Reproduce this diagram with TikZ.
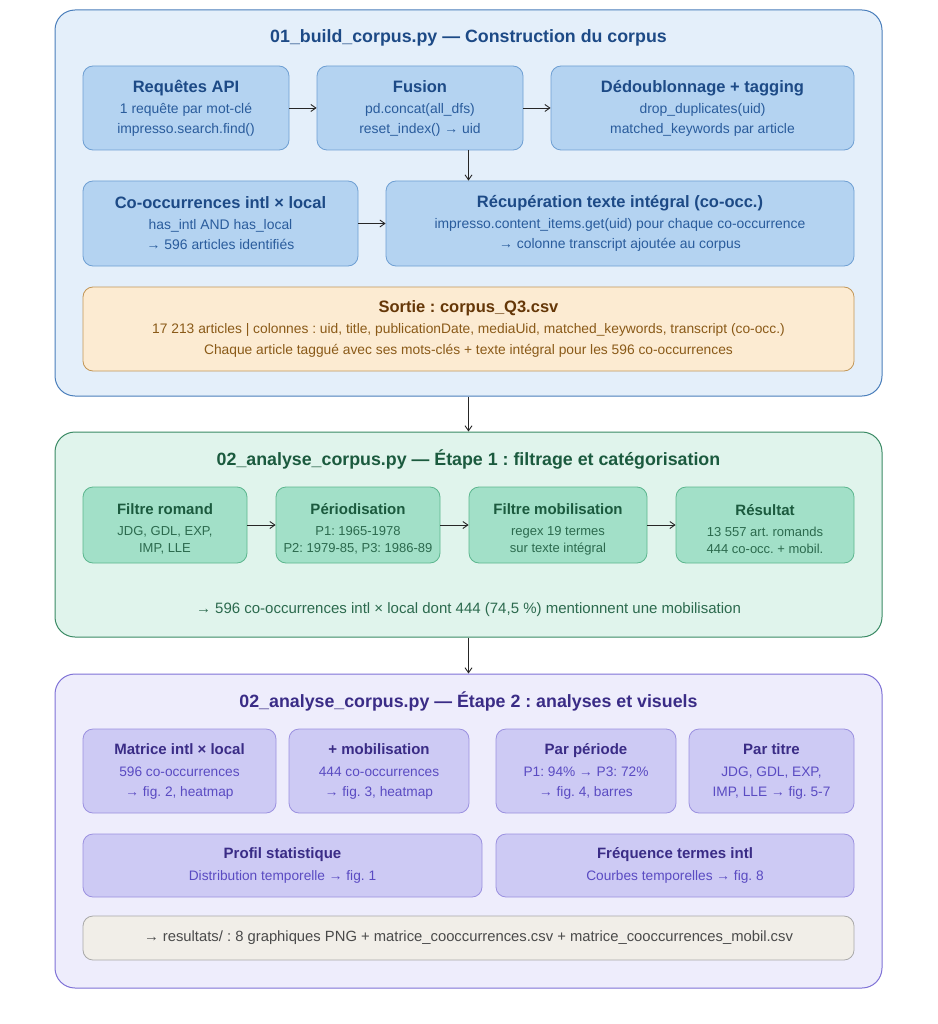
\documentclass[tikz,border=0pt]{standalone}
\usepackage{fontspec}
\setmainfont{Liberation Sans}
\usetikzlibrary{positioning,arrows.meta,calc}
\frenchspacing
\definecolor{bluebg}{HTML}{E4EFFA}
\definecolor{blueedge}{HTML}{4A7EBB}
\definecolor{bluetitle}{HTML}{1D4A86}
\definecolor{bluebox}{HTML}{B4D3F1}
\definecolor{blueline}{HTML}{6E9FD3}
\definecolor{bluetext}{HTML}{2A5C9C}
\definecolor{orbox}{HTML}{FCEBD2}
\definecolor{orline}{HTML}{C29656}
\definecolor{ortitle}{HTML}{653708}
\definecolor{ortext}{HTML}{8A5A18}
\definecolor{greenbg}{HTML}{E0F4EC}
\definecolor{greenedge}{HTML}{3A8A64}
\definecolor{greentitle}{HTML}{1B5A3E}
\definecolor{greenbox}{HTML}{A2E0C8}
\definecolor{greenline}{HTML}{5CB68E}
\definecolor{greentext}{HTML}{2C6A4E}
\definecolor{purplebg}{HTML}{EEEDFC}
\definecolor{purpleedge}{HTML}{7F72D6}
\definecolor{purpletitle}{HTML}{3A2C86}
\definecolor{purplebox}{HTML}{CDCAF4}
\definecolor{purpleline}{HTML}{9B91E0}
\definecolor{purpletext}{HTML}{5A4BC2}
\definecolor{graybox}{HTML}{F1EEE8}
\definecolor{grayline}{HTML}{A8A8A8}
\definecolor{graytext}{HTML}{4A4A4A}
\newcommand{\btitle}[1]{{\color{bluetitle}\fontsize{16.5}{19}\selectfont\bfseries #1}\\[1pt]}
\newcommand{\gtitle}[1]{{\rule{0pt}{19pt}\color{greentitle}\fontsize{15}{17}\selectfont\bfseries #1}\\[4pt]}
\newcommand{\ptitle}[1]{{\color{purpletitle}\fontsize{15}{17}\selectfont\bfseries #1}\\[2pt]}

\begin{document}
\begin{tikzpicture}[x=1pt, y=-1pt,
    panel/.style={draw, line width=1pt, rounded corners=20pt, minimum width=827pt},
    bluepanel/.style={panel, fill=bluebg, draw=blueedge},
    greenpanel/.style={panel, fill=greenbg, draw=greenedge},
    purplepanel/.style={panel, fill=purplebg, draw=purpleedge},
    paneltitle/.style={font=\fontsize{17.8}{21}\selectfont\bfseries},
    card/.style={draw, line width=0.8pt, rounded corners=10pt, align=center, inner sep=0pt},
    bluecard/.style={card, fill=bluebox, draw=blueline, text=bluetext,
      font=\fontsize{13.9}{20}\selectfont, minimum height=84pt},
    orcard/.style={card, fill=orbox, draw=orline, text=ortext,
      font=\fontsize{13.8}{21}\selectfont, minimum height=84pt},
    greencard/.style={card, fill=greenbox, draw=greenline, text=greentext,
      font=\fontsize{13}{17}\selectfont, minimum height=76pt},
    purplecard/.style={card, fill=purplebox, draw=purpleline, text=purpletext,
      font=\fontsize{13.7}{20}\selectfont},
    graycard/.style={card, fill=graybox, draw=grayline, text=graytext,
      font=\fontsize{14.8}{17}\selectfont},
    flow/.style={-{Straight Barb[length=5pt,width=7pt]}, line width=0.9pt, draw=black!85}]
  \useasboundingbox (0,0) rectangle (937,1024);

  % panels
  \node[bluepanel, minimum height=386pt] (box1) at (468.5,203) {};
  \node[greenpanel, minimum height=205pt] (box2) at (468.5,534.5) {};
  \node[purplepanel, minimum height=314pt] (box3) at (468.5,831) {};
  \node[paneltitle, text=bluetitle] (t1) at (468.5,38) {01\_build\_corpus.py — Construction du corpus};
  \node[paneltitle, text=greentitle] (t2) at (468.5,459) {02\_analyse\_corpus.py — Étape 1 : filtrage et catégorisation};
  \node[paneltitle, text=purpletitle] (t3) at (468.5,701) {02\_analyse\_corpus.py — Étape 2 : analyses et visuels};

  % build corpus
  \node[bluecard, minimum width=206pt] (req) at (186,108) {\btitle{Requêtes API}1 requête par mot-clé\\impresso.search.find()};
  \node[bluecard, minimum width=206pt] (fus) at (420,108) {\btitle{Fusion}pd.concat(all\_dfs)\\reset\_index() → uid};
  \node[bluecard, minimum width=303pt] (dedup) at (702.5,108) {\btitle{Dédoublonnage + tagging}drop\_duplicates(uid)\\matched\_keywords par article};
  \node[bluecard, minimum width=275pt, minimum height=85pt] (cooc) at (220.5,223.5) {\btitle{Co-occurrences intl × local}has\_intl AND has\_local\\→ 596 articles identifiés};
  \node[bluecard, minimum width=468pt, minimum height=85pt] (recup) at (620,223.5) {\btitle{Récupération texte intégral (co-occ.)}impresso.content\_items.get(uid) pour chaque co-occurrence\\→ colonne transcript ajoutée au corpus};
  \node[orcard, minimum width=771pt] (sortie) at (468.5,329) {{\color{ortitle}\fontsize{16.5}{19}\selectfont\bfseries Sortie : corpus\_Q3.csv}\\[0pt]17 213 articles | colonnes : uid, title, publicationDate, mediaUid, matched\_keywords, transcript (co-occ.)\\Chaque article taggué avec ses mots-clés + texte intégral pour les 596 co-occurrences};

  \draw[flow] (req) -- (fus);
  \draw[flow] (fus) -- (dedup);
  \draw[flow] (fus.south -| box1.north) -- (recup.north -| box1.north);
  \draw[flow] (cooc) -- (recup);

  % etape 1
  \node[greencard, minimum width=164pt] (romand) at (165,525) {\gtitle{Filtre romand}JDG, GDL, EXP,\\IMP, LLE};
  \node[greencard, minimum width=164pt] (period) at (358,525) {\gtitle{Périodisation}P1: 1965-1978\\P2: 1979-85, P3: 1986-89};
  \node[greencard, minimum width=178pt] (mobil) at (558,525) {\gtitle{Filtre mobilisation}regex 19 termes\\sur texte intégral};
  \node[greencard, minimum width=178pt] (result) at (765,525) {\gtitle{Résultat}13 557 art. romands\\444 co-occ. + mobil.};
  \node[text=greentext, font=\fontsize{15}{17}\selectfont] (bilan) at (468.5,610) {→ 596 co-occurrences intl × local dont 444 (74,5 \%) mentionnent une mobilisation};

  \draw[flow] (romand) -- (period);
  \draw[flow] (period) -- (mobil);
  \draw[flow] (mobil) -- (result);

  % etape 2
  \node[purplecard, minimum width=193pt, minimum height=84pt] (matrice) at (179.5,771) {\ptitle{Matrice intl × local}596 co-occurrences\\→ fig. 2, heatmap};
  \node[purplecard, minimum width=180pt, minimum height=84pt] (mobmat) at (379,771) {\ptitle{+ mobilisation}444 co-occurrences\\→ fig. 3, heatmap};
  \node[purplecard, minimum width=180pt, minimum height=84pt] (parper) at (586,771) {\ptitle{Par période}P1: 94\% → P3: 72\%\\→ fig. 4, barres};
  \node[purplecard, minimum width=165pt, minimum height=84pt] (partitre) at (771.5,771) {\ptitle{Par titre}JDG, GDL, EXP,\\IMP, LLE → fig. 5-7};
  \node[purplecard, minimum width=399pt, minimum height=63pt] (profil) at (282.5,865.5) {\ptitle{Profil statistique}Distribution temporelle → fig. 1};
  \node[purplecard, minimum width=358pt, minimum height=63pt] (freq) at (675,865.5) {\ptitle{Fréquence termes intl}Courbes temporelles → fig. 8};
  \node[graycard, minimum width=771pt, minimum height=44pt] (sorties) at (468.5,938) {→ resultats/ : 8 graphiques PNG + matrice\_cooccurrences.csv + matrice\_cooccurrences\_mobil.csv};

  % liens entre etapes
  \draw[flow] (box1) -- (box2);
  \draw[flow] (box2) -- (box3);
\end{tikzpicture}
\end{document}
